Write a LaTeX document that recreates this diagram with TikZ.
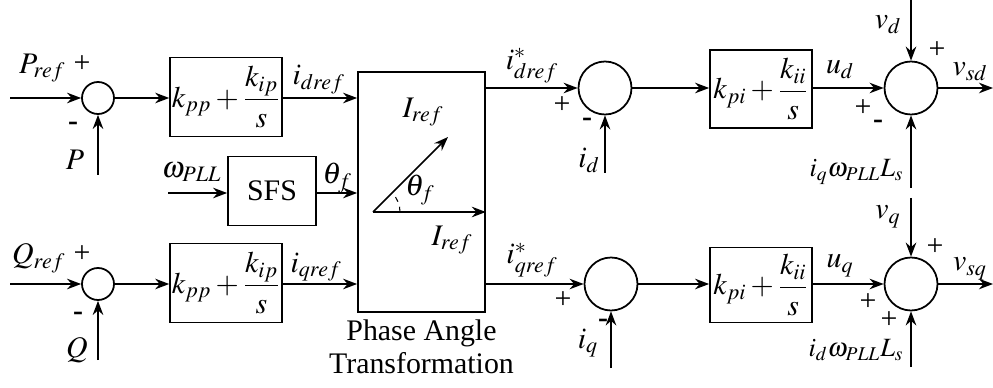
\documentclass[tikz,border=0pt]{standalone}
\usepackage{mathptmx}
\usepackage{fontspec}
\setmainfont{Liberation Serif}
\usetikzlibrary{arrows.meta,positioning}

\begin{document}
\begin{tikzpicture}[x=0.02cm, y=-0.02cm, >={Stealth[length=8pt,width=6pt]}, line width=1pt,
    font=\fontsize{17}{19}\selectfont,
    sumsmall/.style={draw, circle, minimum size=0.64cm, inner sep=0pt},
    sumbig/.style={draw, circle, minimum size=1.06cm, inner sep=0pt},
    blockbox/.style={draw, minimum width=2.16cm, minimum height=1.58cm, inner sep=1pt},
    feedlbl/.style={font=\fontsize{15}{17}\selectfont, inner sep=1pt}]
    \useasboundingbox (0,0) rectangle (993,388);
    % outer loops
    \node[sumsmall] (s1) at (98,98) {};
    \node[sumsmall] (s2) at (98,284) {};
    \node[blockbox] (b1) at (226,97) {$k_{pp}+\displaystyle\frac{k_{ip}}{s}$};
    \node[blockbox] (b2) at (226,283) {$k_{pp}+\displaystyle\frac{k_{ip}}{s}$};
    \node[draw, minimum width=1.76cm, minimum height=1.38cm] (sfs) at (272,191) {SFS};
    \node[draw, minimum width=2.54cm, minimum height=4.8cm] (pat) at (421.5,192) {};
    \node[below=0pt of pat, align=center] (patlbl) {Phase Angle\\Transformation};
    \coordinate (pin) at (10,98);
    \coordinate (pfb) at (98,175);
    \coordinate (qin) at (10,284);
    \coordinate (qfb) at (98,360);
    \coordinate (win) at (168,193);
    \draw[->] (pin) -- (s1.west);
    \draw[->] (pfb) -- (s1.south);
    \draw[->] (s1.east) -- (b1.west |- s1.east);
    \draw[->] (b1.east |- s1.east) -- (pat.west |- s1.east);
    \draw[->] (qin) -- (s2.west);
    \draw[->] (qfb) -- (s2.south);
    \draw[->] (s2.east) -- (b2.west |- s2.east);
    \draw[->] (b2.east |- s2.east) -- (pat.west |- s2.east);
    \draw[->] (win) -- (sfs.west |- win);
    \draw[->] (sfs.east |- win) -- (pat.west |- win);
    \node[anchor=east, inner sep=1pt] at (68,68) {$P_{ref}$};
    \node[inner sep=1pt] at (82,64) {+};
    \node at (73,126) {\textbf{-}};
    \node at (75,160) {$P$};
    \node[anchor=east, inner sep=1pt] at (68,258) {$Q_{ref}$};
    \node[inner sep=1pt] at (82,254) {+};
    \node at (78,316) {\textbf{-}};
    \node at (77,350) {$Q$};
    \node[anchor=west, inner sep=1pt] at (290,80) {$i_{dref}$};
    \node[anchor=west, inner sep=1pt] at (288,267) {$i_{qref}$};
    \node[anchor=east, inner sep=1pt] at (224,172) {$\omega_{PLL}$};
    \node[anchor=west, inner sep=1pt] at (320,178) {$\theta_f$};
    % phasor inside the transformation block
    \coordinate (org) at (373,212);
    \coordinate (vtip) at (448,137);
    \draw[->] (org) -- (pat.east |- org);
    \draw[->] (org) -- (vtip);
    \draw[dashed, line width=0.6pt] (org) ++(0:27) arc (0:-45:27);
    \node at (423,112) {$I_{ref}$};
    \node at (420,190) {$\theta_f$};
    \node at (452,240) {$I_{ref}$};
    % inner current loops
    \node[sumbig] (s3) at (605,88) {};
    \node[sumbig] (s4) at (611,284) {};
    \node[blockbox, minimum width=2.04cm, minimum height=1.56cm] (b3) at (761,89) {$k_{pi}+\displaystyle\frac{k_{ii}}{s}$};
    \node[blockbox, minimum width=2.04cm, minimum height=1.5cm] (b4) at (761,285) {$k_{pi}+\displaystyle\frac{k_{ii}}{s}$};
    \node[sumbig] (s5) at (911,88) {};
    \node[sumbig] (s6) at (911,284) {};
    \coordinate (idfb) at (605,173);
    \coordinate (iqfb) at (611,368);
    \coordinate (vdin) at (911,0);
    \coordinate (vqin) at (911,198);
    \coordinate (cdin) at (911,188);
    \coordinate (cqin) at (911,367);
    \coordinate (vsd) at (993,88);
    \coordinate (vsq) at (993,284);
    \draw[->] (pat.east |- s3.west) -- (s3.west);
    \draw[->] (pat.east |- s4.west) -- (s4.west);
    \draw[->] (idfb) -- (s3.south);
    \draw[->] (iqfb) -- (s4.south);
    \draw[->] (s3.east) -- (b3.west |- s3.east);
    \draw[->] (s4.east) -- (b4.west |- s4.east);
    \draw[->] (b3.east |- s5.west) -- (s5.west);
    \draw[->] (b4.east |- s6.west) -- (s6.west);
    \draw[->] (vdin) -- (s5.north);
    \draw[->] (cdin) -- (s5.south);
    \draw[->] (vqin) -- (s6.north);
    \draw[->] (cqin) -- (s6.south);
    \draw[->] (s5.east) -- (vsd);
    \draw[->] (s6.east) -- (vsq);
    \node at (532,66) {$i^*_{dref}$};
    \node at (532,260) {$i^*_{qref}$};
    \node at (562,105) {+};
    \node at (587,122) {\textbf{-}};
    \node at (589,160) {$i_d$};
    \node at (563,300) {+};
    \node at (603,323) {\textbf{-}};
    \node at (588,343) {$i_q$};
    \node at (840,70) {$u_d$};
    \node at (840,266) {$u_q$};
    \node at (888,25) {$v_d$};
    \node at (937,50) {+};
    \node at (863,108) {+};
    \node at (878,124) {\textbf{-}};
    \node[feedlbl, anchor=east] at (906,172) {$i_q\omega_{PLL}L_s$};
    \node at (970,72) {$v_{sd}$};
    \node at (888,217) {$v_q$};
    \node at (935,247) {+};
    \node at (868,302) {+};
    \node[inner sep=1pt] at (889,320) {+};
    \node[feedlbl, anchor=east] at (906,350) {$i_d\omega_{PLL}L_s$};
    \node at (970,269) {$v_{sq}$};
\end{tikzpicture}
\end{document}
